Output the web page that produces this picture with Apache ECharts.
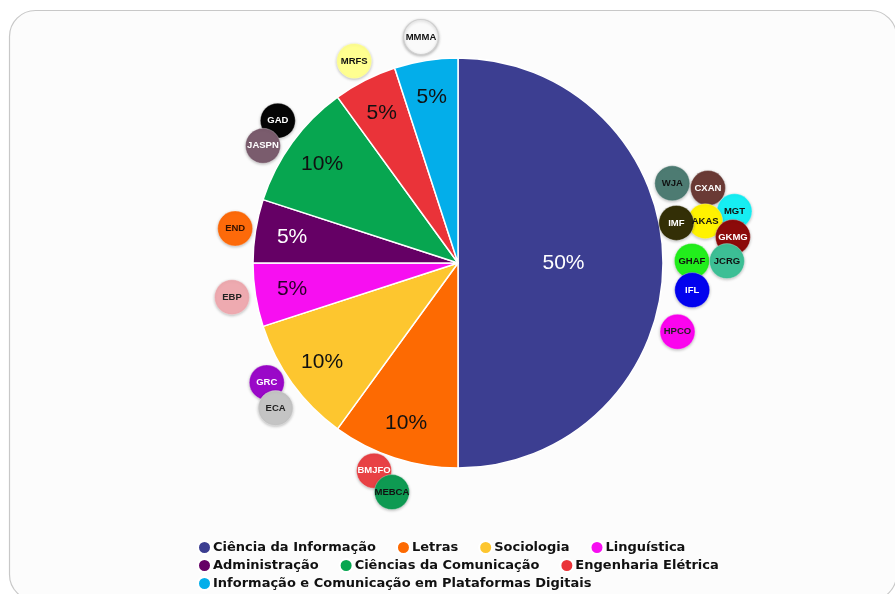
<!DOCTYPE html>
<html>
<head>
<meta charset="utf-8">
<script src="https://cdn.jsdelivr.net/npm/echarts@6/dist/echarts.min.js"></script>
<style>html,body{margin:0;padding:0;background:#fff;}#c{width:895px;height:594px;}</style>
</head>
<body>
<div id="c"></div>
<script>
const categories = ['Ciência da Informação','Letras','Sociologia','Linguística','Administração','Ciências da Comunicação','Engenharia Elétrica','Informação e Comunicação em Plataformas Digitais'];
const shares = [50,10,10,5,5,10,5,5];
const sliceColors = ['#3c3e91','#fd6a02','#fdc62f','#f70ff1','#650065','#07a650','#ea3339','#03aeea'];
const labelColors = ['#ffffff','#111111','#111111','#2a0028','#ffffff','#111111','#111111','#111111'];
const legendRows = [[0,1,2,3],[4,5,6],[7]];

const badgeNames = ['WJA','CXAN','MGT','AKAS','IMF','GKMG','GHAF','JCRG','IFL','HPCO','MMMA','MRFS','GAD','JASPN','END','EBP','GRC','ECA','BMJFO','MEBCA'];
const badgeDistance = [1.115,1.273,1.372,1.223,1.083,1.347,1.141,1.312,1.150,1.122,1.117,1.108,1.120,1.110,1.100,1.115,1.100,1.137,1.093,1.163];
const badgeAngle = [69.6,73.3,79.4,80.4,79.6,84.6,89.5,89.6,96.6,107.4,350.7,332.8,308.3,301.0,278.8,261.4,238.0,231.5,202.0,196.1];
const badgeColors = ['#4d7b72','#6a3a35','#16eef3','#fff200','#332f06','#8c0a0a','#22ee1c','#3cbf95','#0202ee','#fb04ee','#fafafa','#ffff90','#050505','#7a5c6d','#fd6a0a','#eeaab0','#9a08c8','#c4c4c4','#e84145','#0e9a52'];
const badgeTextColors = ['#111','#fff','#111','#111','#fff','#fff','#111','#111','#fff','#222','#111','#111','#fff','#fff','#331100','#222','#fff','#222','#fff','#111'];

const center = [458, 263];
const pieR = 205;

const pieData = categories.map((n, i) => ({
  name: n, value: shares[i],
  itemStyle: { color: sliceColors[i] },
  label: { show: i === 0, color: labelColors[i] }
}));
const labelData = categories.map((n, i) => ({
  name: n, value: shares[i],
  itemStyle: { color: 'rgba(0,0,0,0)' },
  label: { show: i !== 0, color: labelColors[i] }
}));

const legends = legendRows.map((row, r) => ({
  data: row.map(i => ({ name: categories[i], icon: 'circle' })),
  left: 197, top: 540 + r * 18,
  orient: 'horizontal', padding: 0,
  itemWidth: 13, itemHeight: 13, itemGap: 20,
  selectedMode: false,
  textStyle: { fontFamily: 'DejaVu Sans', fontWeight: 'bold', fontSize: 13, color: '#111', padding: [0,0,0,-3] }
}));

const badgeData = badgeNames.map((n, i) => ({
  name: n, value: [badgeDistance[i], badgeAngle[i]],
  itemStyle: { color: badgeColors[i], borderColor: i === 10 ? '#cfcfcf' : 'rgba(255,255,255,0.5)', borderWidth: i === 10 ? 1.2 : 0.6 },
  label: { color: badgeTextColors[i] }
}));

const chart = echarts.init(document.getElementById('c'), null, { renderer: 'canvas' });
chart.setOption({
  animation: false,
  backgroundColor: '#ffffff',
  graphic: [{
    type: 'rect', z: -10, silent: true,
    shape: { x: 9.5, y: 10.5, width: 887, height: 590, r: 26 },
    style: { fill: '#fcfcfc', stroke: '#c8c8c8', lineWidth: 1.2 }
  }],
  legend: legends,
  polar: { center: center, radius: pieR * 2 },
  angleAxis: { type: 'value', min: 0, max: 360, startAngle: 90, clockwise: true, show: false },
  radiusAxis: { type: 'value', min: 0, max: 2, show: false },
  series: [
    {
      type: 'pie', name: 'main', center: center, radius: [0, pieR],
      startAngle: 90, clockwise: true, silent: true,
      itemStyle: { borderColor: '#ffffff', borderWidth: 1.5 },
      label: { position: 'inside', formatter: '{c}%', fontFamily: 'Liberation Sans', fontSize: 21 },
      labelLine: { show: false },
      data: pieData
    },
    {
      type: 'pie', name: 'labels', center: center, radius: [125, pieR],
      startAngle: 90, clockwise: true, silent: true, legendHoverLink: false,
      itemStyle: { borderWidth: 0 },
      label: { position: 'inside', formatter: '{c}%', fontFamily: 'Liberation Sans', fontSize: 21 },
      labelLine: { show: false },
      data: labelData
    },
    {
      type: 'scatter', coordinateSystem: 'polar', silent: true,
      symbol: 'circle', symbolSize: 35,
      itemStyle: { opacity: 1, shadowBlur: 3, shadowColor: 'rgba(0,0,0,0.25)', shadowOffsetY: 1 },
      label: { show: true, position: 'inside', formatter: '{b}', fontFamily: 'Liberation Sans', fontWeight: 'bold', fontSize: 9.5 },
      data: badgeData
    }
  ]
});
</script>
</body>
</html>
